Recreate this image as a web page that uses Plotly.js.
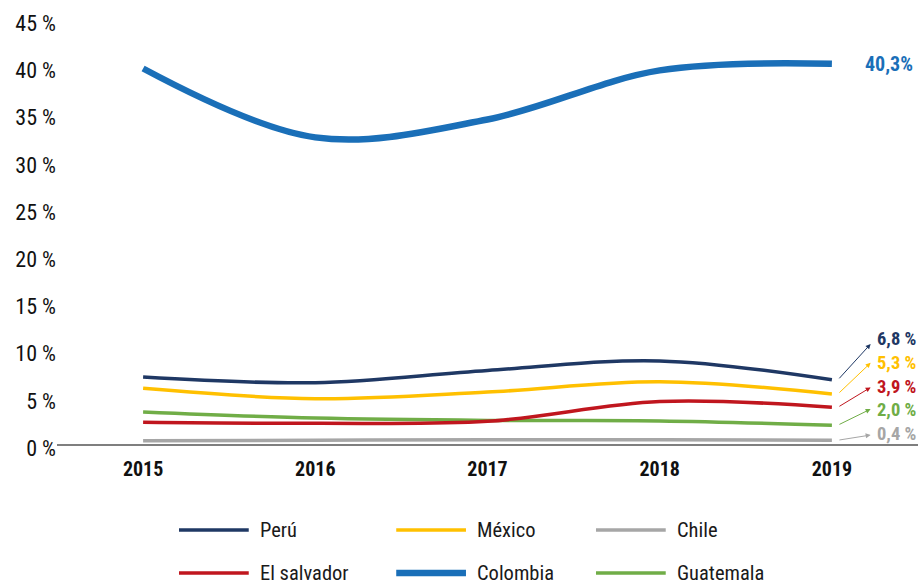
<!DOCTYPE html>
<html>
<head>
<meta charset="utf-8">
<script src="https://cdn.plot.ly/plotly-3.0.1.min.js"></script>
<style>html,body{margin:0;padding:0;background:#fff;}#chart{width:921px;height:584px;}</style>
</head>
<body>
<div id="chart"></div>
<script>
const years = [2015, 2016, 2017, 2018, 2019];
const seriesNames = ["Perú", "México", "Chile", "El salvador", "Colombia", "Guatemala"];
const peru = [7.1, 6.5, 7.8, 8.8, 6.8];
const mexico = [5.9, 4.8, 5.5, 6.6, 5.3];
const chile = [0.35, 0.4, 0.45, 0.45, 0.4];
const elSalvador = [2.3, 2.2, 2.4, 4.5, 3.9];
const colombia = [39.8, 32.5, 34.4, 39.6, 40.3];
const guatemala = [3.4, 2.75, 2.5, 2.45, 2.0];
const endLabels = ["6,8 %", "5,3 %", "0,4 %", "3,9 %", "40,3%", "2,0 %"];
const yTickVals = [0, 5, 10, 15, 20, 25, 30, 35, 40, 45];
const yTickText = ["0 %", "5 %", "10 %", "15 %", "20 %", "25 %", "30 %", "35 %", "40 %", "45 %"];

const values = [peru, mexico, chile, elSalvador, colombia, guatemala];
const colors = ["#1f3864", "#ffc000", "#a6a6a6", "#c0161e", "#1a6fb8", "#70ad47"];
const widths = [3.5, 3.5, 3.5, 3.5, 6.5, 3.5];
// arrow-tip heights and label heights (axis units) for the arrowed end labels
const arrowTipY = [10.6, 8.6, 0.95, 6.0, null, 3.7];
const labelTextY = [11.1, 8.6, 1.05, 6.0, null, 3.6];

const FONT = '"Roboto Condensed", "Liberation Sans Narrow", "Arial Narrow", "Roboto", sans-serif';

const drawOrder = [2, 5, 3, 1, 0, 4];
const traces = drawOrder.map(i => ({
  x: years, y: values[i], type: 'scatter', mode: 'lines', name: seriesNames[i],
  line: {color: colors[i], width: widths[i], shape: 'spline', smoothing: 1},
  hoverinfo: 'skip', showlegend: false
}));

const annotations = [];
const shapes = [];
values.forEach((v, i) => {
  const last = v[v.length - 1];
  if (arrowTipY[i] === null) {
    annotations.push({x: 2019.18, y: last, xref: 'x', yref: 'y', text: endLabels[i], showarrow: false,
      xanchor: 'left', yanchor: 'middle', font: {family: FONT, size: 20, color: colors[i], weight: 'bold'}});
  } else {
    annotations.push({x: 2019.225, y: arrowTipY[i], xref: 'x', yref: 'y', ax: 2019.035, ay: last,
      axref: 'x', ayref: 'y', text: '', showarrow: true, arrowhead: 2, arrowsize: 1, arrowwidth: 1,
      arrowcolor: colors[i], standoff: 0, startstandoff: 0});
    annotations.push({x: 2019.25, y: labelTextY[i], xref: 'x', yref: 'y', text: endLabels[i], showarrow: false,
      xanchor: 'left', yanchor: 'middle', font: {family: FONT, size: 18.5, color: colors[i], weight: 'bold'}});
  }
});

// custom legend (2 rows x 3 columns)
const colX = [0.1417, 0.394, 0.626];
const rowY = [-0.198, -0.297];
const lineLen = 0.081;
seriesNames.forEach((name, i) => {
  const c = i % 3, r = Math.floor(i / 3);
  shapes.push({type: 'line', xref: 'paper', yref: 'paper', x0: colX[c], x1: colX[c] + lineLen,
    y0: rowY[r], y1: rowY[r], line: {color: colors[i], width: widths[i]}});
  annotations.push({xref: 'paper', yref: 'paper', x: colX[c] + lineLen + 0.011, y: rowY[r],
    text: name, showarrow: false, xanchor: 'left', yanchor: 'middle',
    font: {family: FONT, size: 20.5, color: '#1a1a1a'}});
});

const layout = {
  width: 921, height: 584,
  margin: {l: 57, r: 3, t: 10, b: 140},
  paper_bgcolor: '#fff', plot_bgcolor: '#fff',
  showlegend: false,
  xaxis: {range: [2014.5, 2019.5], tickvals: years, ticktext: years.map(String),
    showgrid: false, zeroline: false, showline: true, linecolor: '#7f7f7f', linewidth: 1.5,
    ticks: '', ticklabelstandoff: 6,
    tickfont: {family: FONT, size: 20, color: '#111', weight: 'bold'}},
  yaxis: {range: [0, 46], tickvals: yTickVals, ticktext: yTickText,
    showgrid: false, zeroline: false, showline: false, ticks: '',
    ticklabelstandoff: 0, ticklabelshift: 4,
    tickfont: {family: FONT, size: 22, color: '#111'}},
  annotations: annotations,
  shapes: shapes
};

Plotly.newPlot('chart', traces, layout, {displayModeBar: false, staticPlot: true});
</script>
</body>
</html>
